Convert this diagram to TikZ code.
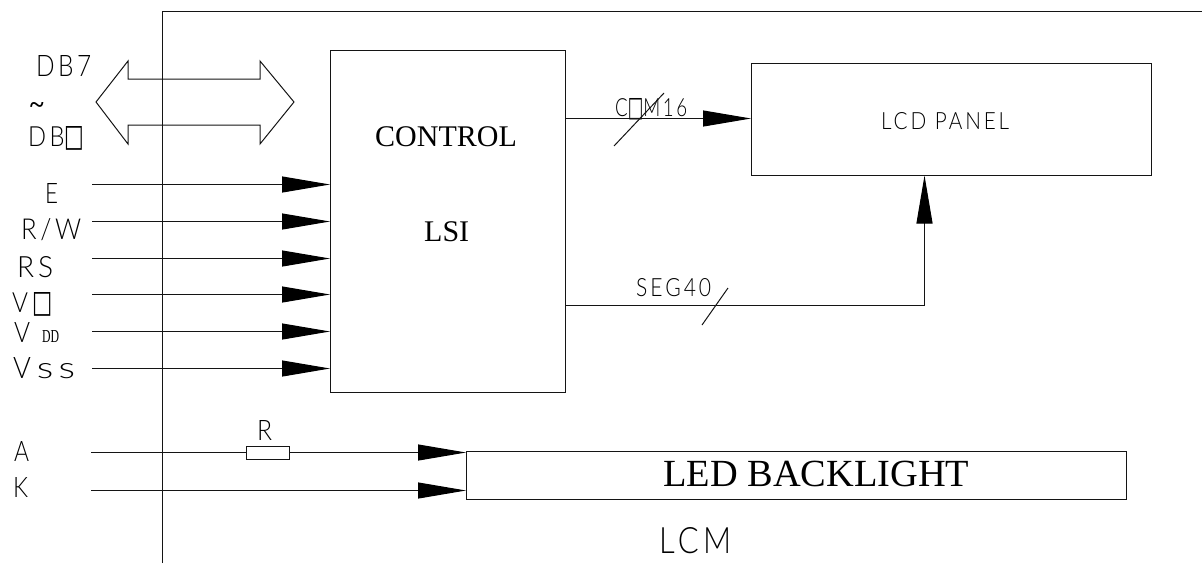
\documentclass[tikz,border=0pt]{standalone}
\usepackage{fontspec}
\usepackage{graphicx}
\setmainfont{Liberation Serif}
\newfontfamily\simplex[LetterSpace=14]{Lato Light}
\newfontfamily\boxfont{DejaVu Sans}
\usetikzlibrary{arrows.meta}
\newcommand{\zz}{\scalebox{0.88}[1.12]{\boxfont\char"25A1}}
\newcommand{\fitw}[3]{\resizebox{#1pt}{#2pt}{\simplex #3}}
\tikzset{
  wire/.style={line width=1pt,color=black!92},
  sig/.style={wire,-{Triangle[length=48pt,width=16pt,sep=0pt,color=black,fill=black]}},
  blockbox/.style={draw,line width=1pt,color=black!92,text=black,rectangle,inner sep=0pt,anchor=north west},
  cad/.style={inner sep=0pt,anchor=base west,text=black},
  serif/.style={inner sep=0pt,anchor=base west,text=black},
}
\begin{document}
\begin{tikzpicture}[x=1pt,y=-1pt]
\useasboundingbox (0,0) rectangle (1202,563);
% module frame
\coordinate (ftop) at (162.5,11);
\coordinate (fbot) at (162.5,563);
\coordinate (fright) at (1202,11);
\draw[wire] (fbot) -- (ftop) -- (fright);
% blocks
\node[blockbox,minimum width=235pt,minimum height=342pt] (ctrl) at (330,50) {};
\node[blockbox,minimum width=400pt,minimum height=112pt] (lcd) at (751,62.5) {};
\node[blockbox,minimum width=660pt,minimum height=47.5pt] (led) at (466,451) {};
\node[serif,font=\fontsize{30}{30}\selectfont] (tcontrol) at (375,146) {CONTROL};
\node[serif,font=\fontsize{30}{30}\selectfont] (tlsi) at (424,241) {LSI};
\node[serif,font=\fontsize{38.4}{38}\selectfont] (tled) at (663,486) {LED BACKLIGHT};
\node[cad] (tlcd) at (881,129) {\fitw{128}{17}{LCD PANEL}};
% bus
\draw[wire] (96,102) -- (128,61) -- (128,79) -- (260,79) -- (260,61) -- (294,102) -- (260,144) -- (260,125) -- (128,125) -- (128,144) -- cycle;
% labels
\node[cad] (db7) at (36,76) {\fitw{55}{21}{DB7}};
\node[inner sep=0pt,anchor=center,font=\bfseries\fontsize{26}{26}\selectfont] (tilde) at (37,108) {\textasciitilde};
\node[cad] (db0) at (28,146) {\fitw{56}{20}{DB\zz}};
\node[cad] (le) at (45,203) {\fitw{13}{20}{E}};
\node[cad] (lrw) at (21,239) {\fitw{60}{21}{R/W}};
\node[cad] (lrs) at (17,277) {\fitw{36}{21}{RS}};
\node[cad] (lv0) at (12,312) {\fitw{41}{20}{V\hspace{2pt}\zz}};
\node[cad] (lvdd) at (14,342) {\fitw{16}{20}{V}};
\node[serif] (ldd) at (42,342) {\resizebox{17pt}{12pt}{DD}};
\node[cad] (lvss) at (13,378) {\fitw{62}{21}{\scalebox{.7}[1]{V}\hspace{1.5pt}ss}};
\node[cad] (la) at (14,461) {\fitw{15}{20}{A}};
\node[cad] (lk) at (13,497) {\fitw{15}{20}{K}};
\node[cad] (lr) at (257,440) {\fitw{15}{20}{R}};
\node[cad] (llcm) at (659,553) {\fitw{72}{26}{LCM}};
\node[cad] (lcom) at (615,116) {\fitw{72}{18}{C\zz M16}};
\node[cad] (lseg) at (636,296) {\fitw{75}{18}{SEG40}};
% control inputs
\foreach \n/\y in {a/184.5,b/221.5,c/258.5,d/294.5,e/331.5,f/368.5}{
  \coordinate (s\n) at (92,\y);
  \draw[sig] (s\n) -- (s\n -| ctrl.west);
}
% backlight
\coordinate (sa) at (91,452.5);
\coordinate (sk) at (91,490.5);
\node[draw,line width=1pt,color=black!92,rectangle,inner sep=0pt,minimum width=43pt,minimum height=13pt] (res) at (267.5,452.5) {};
\draw[wire] (sa) -- (res.west);
\draw[sig] (res.east) -- (led.north west |- res.east);
\draw[sig] (sk) -- (led.west |- sk);
% outputs
\coordinate (cs) at (ctrl.east |- 0,118.5);
\draw[sig] (cs) -- (lcd.west |- cs);
\coordinate (cslasha) at (614,146);
\coordinate (cslashb) at (664,93);
\draw[wire] (cslasha) -- (cslashb);
\coordinate (ss) at (ctrl.east |- 0,305.5);
\coordinate (sb) at (924.5,305.5);
\draw[wire] (ss) -- (sb);
\draw[sig] (sb) -- (sb |- lcd.south);
\coordinate (sslasha) at (702,325);
\coordinate (sslashb) at (728,288);
\draw[wire] (sslasha) -- (sslashb);
\end{tikzpicture}
\end{document}
